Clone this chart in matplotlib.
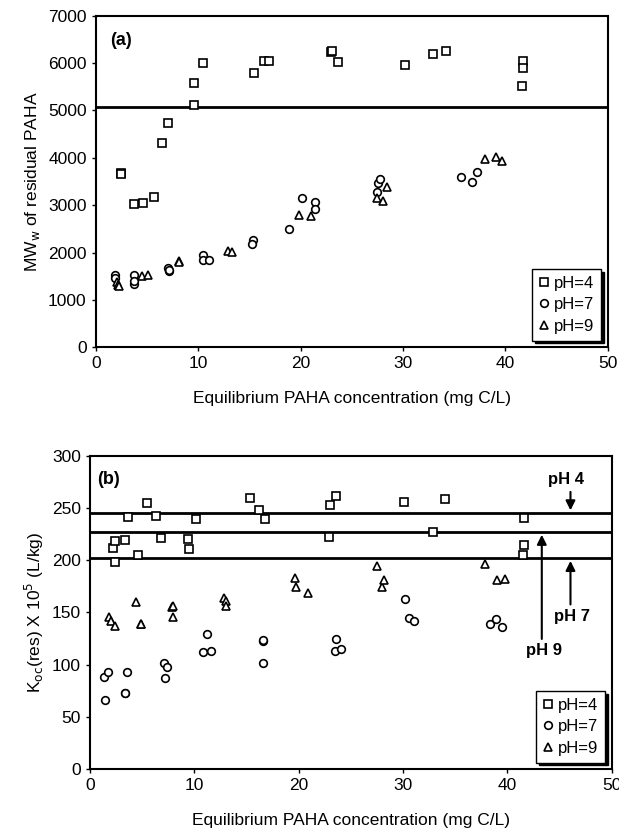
import matplotlib
matplotlib.use('Agg')
import matplotlib.pyplot as plt

plt.rcParams['font.family'] = ['Liberation Sans', 'DejaVu Sans']

# (a) MWw of residual PAHA
a4_x = [2.5, 2.5, 3.74, 4.66, 5.67, 6.48, 7.05, 9.64, 9.64, 10.45, 15.46, 16.46, 16.96,
        23.0, 23.05, 23.7, 30.2, 32.9, 34.2, 41.6, 41.7, 41.7]
a4_y = [3680, 3650, 3023, 3051, 3165, 4316, 4733, 5581, 5121, 6011, 5800, 6040, 6040,
        6237, 6260, 6032, 5955, 6195, 6251, 5517, 6040, 5905]
a7_x = [1.93, 1.93, 3.74, 3.74, 3.7, 7.05, 7.13, 7.2, 10.5, 10.45, 11.06, 15.38, 15.3,
        18.85, 20.12, 21.4, 21.4, 27.5, 27.6, 27.8, 35.66, 36.7, 37.2]
a7_y = [1519, 1469, 1519, 1328, 1400, 1681, 1610, 1640, 1957, 1837, 1837, 2260, 2190,
        2494, 3150, 3073, 2917, 3270, 3461, 3553, 3603, 3483, 3709]
a9_x = [2.1, 2.2, 2.3, 4.5, 5.09, 8.17, 8.17, 12.9, 13.3, 19.85, 21.0, 27.45, 28.1, 28.4,
        37.97, 39.09, 39.7]
a9_y = [1380, 1320, 1300, 1505, 1519, 1823, 1790, 2034, 2020, 2790, 2762, 3144, 3094, 3377,
        3977, 4012, 3928]
a_line = 5080

# (b) Koc(res) x 10^5
b4_x = [2.24, 2.35, 2.35, 3.64, 3.38, 4.56, 5.47, 6.3, 6.76, 9.38, 9.49, 10.14, 15.34,
        16.2, 16.8, 23.0, 23.6, 22.9, 30.1, 32.9, 34.06, 41.6, 41.6, 41.5]
b4_y = [212, 218, 198, 241, 219.5, 205, 254.6, 242, 221, 220, 211, 239, 259.7,
        248, 239, 253, 261, 221.8, 256, 226.6, 259, 240, 215, 205]
b7_x = [1.44, 1.37, 1.7, 3.34, 3.38, 3.5, 7.14, 7.1, 7.36, 10.86, 11.24, 11.6, 16.6, 16.62,
        16.55, 23.5, 23.6, 24.07, 30.2, 30.6, 31.1, 38.3, 38.9, 39.5]
b7_y = [66, 88.7, 93, 73.4, 73, 93, 87, 101.5, 97.6, 112.6, 129, 113.6, 123, 124,
        101.5, 113, 124.8, 115.5, 162.7, 145, 142, 139, 144, 136]
b9_x = [1.82, 2.0, 2.35, 4.37, 4.86, 4.9, 7.9, 7.95, 7.97, 12.8, 13.06, 13.0, 19.6, 19.7,
        20.9, 27.5, 28.0, 28.2, 37.9, 39.0, 39.75]
b9_y = [145.5, 142, 137.5, 160, 138.5, 139, 155.7, 156.5, 146, 163.7, 161, 156, 183, 174,
        169, 194.6, 174, 181, 196.6, 181, 182]
b_lines = [245, 227, 202]

fig = plt.figure(figsize=(6.19, 8.35), dpi=100)
ax1 = fig.add_axes([0.1546, 0.5841, 0.9818 - 0.1546, 0.9812 - 0.5841])
ax2 = fig.add_axes([0.1454, 0.0787, 0.9882 - 0.1454, 0.4543 - 0.0787])

mk = dict(linestyle='none', markerfacecolor='white', markeredgecolor='black',
          markeredgewidth=1.2)

ax1.axhline(a_line, color='black', lw=2, zorder=1)
ax1.plot(a4_x, a4_y, marker='s', markersize=5.5, label='pH=4', **mk)
ax1.plot(a7_x, a7_y, marker='o', markersize=5.5, label='pH=7', **mk)
ax1.plot(a9_x, a9_y, marker='^', markersize=6, label='pH=9', **mk)
ax1.set_xlim(0, 50)
ax1.set_ylim(0, 7000)
ax1.set_xticks(range(0, 51, 10))
ax1.set_yticks(range(0, 7001, 1000))
ax1.set_xlabel('Equilibrium PAHA concentration (mg C/L)', fontsize=12.5, labelpad=14)
ax1.set_ylabel('MW$_\\mathrm{w}$ of residual PAHA', fontsize=12.5)
ax1.text(1.4, 6470, '(a)', fontsize=13, fontweight='bold', va='center')
ax1.legend(loc='lower right', fontsize=12, frameon=True, fancybox=False,
           edgecolor='black', handlelength=0.6, handletextpad=0.3,
           borderaxespad=0.4, labelspacing=0.4,
           shadow={'color': 'black', 'alpha': 1})

for y in b_lines:
    ax2.axhline(y, color='black', lw=2, zorder=1)
ax2.plot(b4_x, b4_y, marker='s', markersize=5.5, label='pH=4', **mk)
ax2.plot(b7_x, b7_y, marker='o', markersize=5.5, label='pH=7', **mk)
ax2.plot(b9_x, b9_y, marker='^', markersize=6, label='pH=9', **mk)
ax2.set_xlim(0, 50)
ax2.set_ylim(0, 300)
ax2.set_xticks(range(0, 51, 10))
ax2.set_yticks(range(0, 301, 50))
ax2.set_xlabel('Equilibrium PAHA concentration (mg C/L)', fontsize=12.5, labelpad=14)
ax2.set_ylabel('K$_\\mathrm{oc}$(res) X 10$^5$ (L/kg)', fontsize=12.5)
ax2.text(0.7, 277, '(b)', fontsize=13, fontweight='bold', va='center')

arr = dict(arrowstyle='-|>', color='black', lw=1.5, mutation_scale=14)
ax2.annotate('', xy=(46.05, 245), xytext=(46.05, 268), arrowprops=arr)
ax2.text(45.6, 277, 'pH 4', fontsize=12, fontweight='bold', ha='center', va='center')
ax2.annotate('', xy=(43.3, 227), xytext=(43.3, 122), arrowprops=arr)
ax2.text(43.5, 114, 'pH 9', fontsize=12, fontweight='bold', ha='center', va='center')
ax2.annotate('', xy=(46.05, 202), xytext=(46.05, 155), arrowprops=arr)
ax2.text(46.2, 146, 'pH 7', fontsize=12, fontweight='bold', ha='center', va='center')

ax2.legend(loc='lower right', fontsize=12, frameon=True, fancybox=False,
           edgecolor='black', handlelength=0.6, handletextpad=0.3,
           borderaxespad=0.4, labelspacing=0.4,
           shadow={'color': 'black', 'alpha': 1})

for ax in (ax1, ax2):
    ax.tick_params(labelsize=12.5, direction='out', length=3, width=1)
    for s in ax.spines.values():
        s.set_linewidth(1.5)
    ax.set_zorder(2)

fig.savefig('out.png', dpi=100)
